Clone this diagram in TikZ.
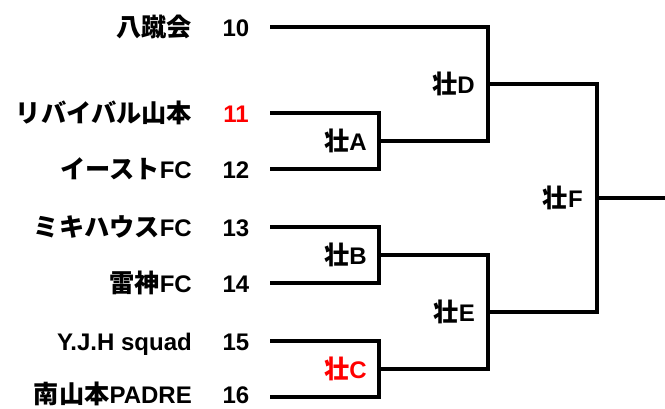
\documentclass[tikz,border=0pt]{standalone}
\usepackage{fontspec}
\setmainfont{Liberation Sans}
\newfontfamily\jp[Scale=1.05]{Noto Sans CJK JP}
\begin{document}
\begin{tikzpicture}[x=1pt,y=-1pt,
  br/.style={line width=3.6pt, line join=miter},
  tname/.style={anchor=base east, inner sep=0pt, font=\fontsize{24}{26}\selectfont\bfseries},
  tnum/.style={anchor=base, inner sep=0pt, font=\fontsize{24}{26}\selectfont\bfseries},
  mlab/.style={anchor=base east, inner sep=0pt, font=\fontsize{24}{26}\selectfont\bfseries}]
\useasboundingbox (0,0) rectangle (665,408);
% team names
\node[tname] (n10) at (192,36) {\jp 八蹴会};
\node[tname] (n11) at (192,122) {\jp リバイバル山本};
\node[tname] (n12) at (192,178) {{\jp イースト}FC};
\node[tname] (n13) at (192,236) {{\jp ミキハウス}FC};
\node[tname] (n14) at (192,292) {{\jp 雷神}FC};
\node[tname] (n15) at (192,350) {Y.J.H squad};
\node[tname] (n16) at (192,403) {{\jp 南山本}PADRE};
% numbers
\node[tnum] (s10) at (236,36) {10};
\node[tnum,text=red] (s11) at (236,122) {11};
\node[tnum] (s12) at (236,178) {12};
\node[tnum] (s13) at (236,236) {13};
\node[tnum] (s14) at (236,292) {14};
\node[tnum] (s15) at (236,350) {15};
\node[tnum] (s16) at (236,403) {16};
% line starts
\coordinate (l10) at (270,27);
\coordinate (l11) at (270,113);
\coordinate (l12) at (270,169);
\coordinate (l13) at (270,227);
\coordinate (l14) at (270,283);
\coordinate (l15) at (270,341);
\coordinate (l16) at (270,397);
% match points
\coordinate (A) at (379,141);
\coordinate (B) at (379,255);
\coordinate (C) at (379,369);
\coordinate (D) at (488,84);
\coordinate (E) at (488,312);
\coordinate (F) at (597,198);
\coordinate (W) at (665,198);
% brackets
\draw[br] (l11) -| (A) |- (l12);
\draw[br] (l13) -| (B) |- (l14);
\draw[br] (l15) -| (C) |- (l16);
\draw[br] (l10) -| (D) |- (A);
\draw[br] (B) -| (E) |- (C);
\draw[br] (D) -| (F) |- (E);
\draw[br] (F) -- (W);
% match labels
\node[mlab] (la) at (367,150) {{\jp 壮}A};
\node[mlab] (lb) at (367,264) {{\jp 壮}B};
\node[mlab,text=red] (lc) at (367,378) {{\jp 壮}C};
\node[mlab] (ld) at (475,93) {{\jp 壮}D};
\node[mlab] (le) at (475,321) {{\jp 壮}E};
\node[mlab] (lf) at (583,207) {{\jp 壮}F};
\end{tikzpicture}
\end{document}
